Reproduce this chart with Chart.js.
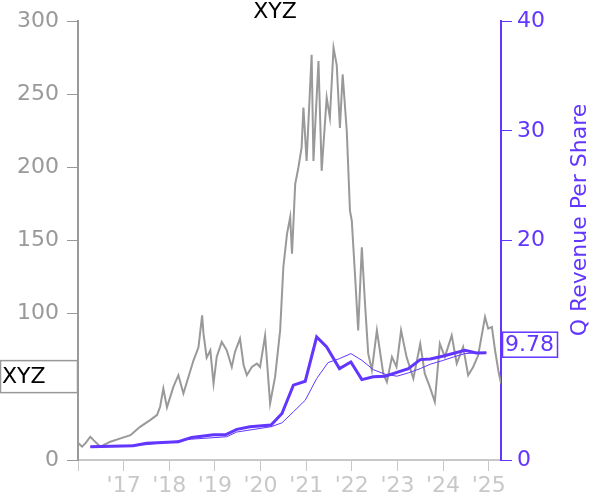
<!DOCTYPE html>
<html>
<head>
<meta charset="utf-8">
<script src="https://cdn.jsdelivr.net/npm/chart.js@4.4.1/dist/chart.umd.min.js"></script>
<style>
  html, body { margin: 0; padding: 0; background: #fff; }
  #wrap { width: 600px; height: 500px; position: relative; }
</style>
</head>
<body>
<div id="wrap"><canvas id="c" width="600" height="500"></canvas></div>
<script>
// ---- data ----
const ticker = 'XYZ';
const rightAxisTitle = 'Q Revenue Per Share';
const lastRevenueLabel = '9.78';

const priceDates = [2016.01,2016.09,2016.16,2016.27,2016.34,2016.49,2016.71,2016.93,2017.15,2017.36,2017.58,2017.73,2017.80,2017.87,2017.95,
  2018.09,2018.20,2018.31,2018.42,2018.53,2018.64,2018.72,2018.75,2018.82,2018.90,2018.97,2019.04,2019.15,2019.26,2019.37,2019.44,2019.55,
  2019.63,2019.70,2019.81,2019.92,2019.99,2020.10,2020.21,2020.32,2020.43,2020.50,2020.58,2020.65,2020.69,2020.76,2020.83,2020.90,2020.94,
  2021.01,2021.12,2021.16,2021.27,2021.34,2021.45,2021.52,2021.60,2021.67,2021.74,2021.80,2021.89,2021.96,2022.00,2022.07,2022.14,2022.22,
  2022.29,2022.36,2022.44,2022.55,2022.69,2022.77,2022.88,2022.98,2023.08,2023.20,2023.35,2023.50,2023.60,2023.71,2023.82,2023.93,2024.04,
  2024.19,2024.30,2024.44,2024.55,2024.66,2024.77,2024.92,2024.99,2025.07,2025.14,2025.21,2025.27];
const priceValues = [11.4,9.1,11.4,15.9,13.6,9.1,12.5,14.8,17,22.7,27.3,30.7,36.4,48.9,36,
  50,58,45.5,56.8,68,77,98.9,86.4,70,75,52.3,70.4,80.7,75,63.6,73.9,83,
  64.8,58,63.6,65.9,63.6,85,38.6,57,88.6,131.8,154.5,166,141,188.6,200,213.6,241,
  204.5,277,204.5,272.7,197.7,247.7,234,281.8,270,227,263.6,225,170.5,163.6,127,88.6,145.5,
  106.8,72.7,61.4,88.6,59,53.4,70.5,63.6,88.6,70.5,55.7,79.5,59,50,39.8,79.5,70.5,
  85.2,66,77.3,58,63.6,71.6,97.7,89.8,91,75,61.4,52.3];

const revDates = [2016.27,2017.21,2017.50,2018.20,2018.49,2018.97,2019.23,2019.48,2019.77,2020.23,2020.47,2020.72,2020.98,
  2021.23,2021.45,2021.73,2021.98,2022.22,2022.47,2022.73,2023.24,2023.50,2023.72,2024.01,2024.48,2024.73,2024.95];
const revValues = [1.21,1.30,1.52,1.67,2.06,2.30,2.30,2.79,3.03,3.18,4.24,6.82,7.18,
  11.21,10.3,8.33,8.94,7.33,7.58,7.64,8.33,9.15,9.21,9.48,10.0,9.76,9.78];

const revAvgDates = [2016.27,2017.50,2018.49,2019.26,2019.48,2020.23,2020.47,2020.72,2020.98,2021.23,2021.48,2021.73,2021.98,
  2022.22,2022.47,2022.73,2022.99,2023.24,2023.50,2023.72,2024.01,2024.23,2024.48,2024.73,2024.95];
const revAvgValues = [1.21,1.40,1.90,2.12,2.55,3.03,3.39,4.39,5.45,7.42,8.88,9.24,9.70,
  9.09,8.24,7.82,7.64,7.94,8.33,8.73,9.09,9.39,9.70,9.76,9.78];

const xTickYears = [2016,2017,2018,2019,2020,2021,2022,2023,2024,2025];
const xTickLabels = ['',"'17","'18","'19","'20","'21","'22","'23","'24","'25"];
const leftTicks = [0,50,100,150,200,250,300];
const rightTicks = [0,10,20,30,40];
const priceLabelValue = 57;

// ---- styles ----
const PURPLE = '#6236ff';
const GREY = '#999999';
const LIGHT = '#c8c8c8';
const FONT = 'DejaVu Sans';

const pts = (xs, ys) => xs.map((x, i) => ({ x: x, y: ys[i] }));

const overlay = {
  id: 'overlay',
  afterDraw(chart) {
    const ctx = chart.ctx;
    const yl = chart.scales.yLeft, yr = chart.scales.yRight;
    ctx.save();
    // title
    ctx.fillStyle = '#000';
    ctx.font = '22px "' + FONT + '"';
    ctx.textAlign = 'center';
    ctx.textBaseline = 'middle';
    ctx.fillText(ticker, 275, 12);
    // right axis title
    ctx.save();
    ctx.translate(580, 220);
    ctx.rotate(-Math.PI / 2);
    ctx.fillStyle = PURPLE;
    ctx.fillText(rightAxisTitle, 0, 0);
    ctx.restore();
    // left price label box
    const py = yl.getPixelForValue(priceLabelValue);
    ctx.fillStyle = '#fff';
    ctx.fillRect(0.5, py - 16, 77, 32);
    ctx.strokeStyle = GREY;
    ctx.lineWidth = 1.5;
    ctx.strokeRect(0.5, py - 16, 77, 32);
    ctx.fillStyle = '#000';
    ctx.textAlign = 'left';
    ctx.fillText(ticker, 2, py + 1);
    // right revenue label box
    const ry = yr.getPixelForValue(revValues[revValues.length - 1]) - 8;
    ctx.fillStyle = '#fff';
    ctx.fillRect(502.5, ry - 12.5, 55, 25);
    ctx.strokeStyle = PURPLE;
    ctx.lineWidth = 1.5;
    ctx.strokeRect(502.5, ry - 12.5, 55, 25);
    ctx.fillStyle = PURPLE;
    ctx.fillText(lastRevenueLabel, 505, ry + 1);
    ctx.restore();
  }
};

new Chart(document.getElementById('c'), {
  type: 'line',
  data: {
    datasets: [
      { data: pts(priceDates, priceValues), yAxisID: 'yLeft', borderColor: GREY, borderWidth: 2, pointRadius: 0, tension: 0, order: 3 },
      { data: pts(revAvgDates, revAvgValues), yAxisID: 'yRight', borderColor: PURPLE, borderWidth: 1, pointRadius: 0, tension: 0, order: 2 },
      { data: pts(revDates, revValues), yAxisID: 'yRight', borderColor: PURPLE, borderWidth: 3, pointRadius: 0, tension: 0, order: 1 }
    ]
  },
  options: {
    responsive: false,
    animation: false,
    events: [],
    layout: { padding: { top: 20, left: 0, right: 0, bottom: 0 } },
    plugins: { legend: { display: false }, tooltip: { enabled: false }, title: { display: false } },
    scales: {
      x: {
        type: 'linear', min: 2016, max: 2025.27,
        afterBuildTicks: s => { s.ticks = xTickYears.map(v => ({ value: v })); },
        afterFit: s => { s.height = 40; },
        ticks: { color: LIGHT, font: { family: FONT, size: 22 }, padding: 2, maxRotation: 0, autoSkip: false,
                 callback: (v) => xTickLabels[xTickYears.indexOf(v)] },
        grid: { drawOnChartArea: false, drawTicks: true, tickLength: 11, color: LIGHT },
        border: { color: LIGHT, width: 2 }
      },
      yLeft: {
        position: 'left', min: 0, max: 300,
        afterBuildTicks: s => { s.ticks = leftTicks.map(v => ({ value: v })); },
        afterFit: s => { s.width = 78; },
        ticks: { color: GREY, font: { family: FONT, size: 22 }, padding: 8 },
        grid: { drawOnChartArea: false, drawTicks: true, tickLength: 11, color: GREY },
        border: { color: GREY, width: 2 }
      },
      yRight: {
        position: 'right', min: 0, max: 40,
        afterBuildTicks: s => { s.ticks = rightTicks.map(v => ({ value: v })); },
        afterFit: s => { s.width = 99; },
        ticks: { color: PURPLE, font: { family: FONT, size: 22 }, padding: 5 },
        grid: { drawOnChartArea: false, drawTicks: true, tickLength: 11, color: PURPLE },
        border: { color: PURPLE, width: 2 }
      }
    }
  },
  plugins: [overlay]
});
</script>
</body>
</html>
